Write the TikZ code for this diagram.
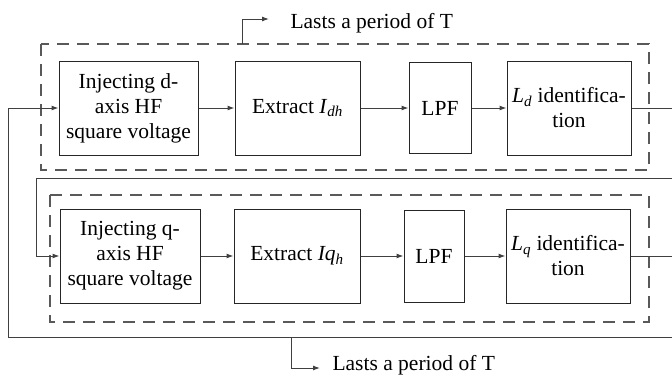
\documentclass[tikz,border=0pt]{standalone}
\usepackage{fontspec}
\setmainfont{Liberation Serif}
\usetikzlibrary{arrows.meta,positioning}
\newcommand{\quant}[2]{\textit{#1}\textsubscript{\textit{#2}}}
\tikzset{
    every node/.style={font=\rmfamily\fontsize{21.5}{25}\selectfont},
    block/.style={draw=black!85,line width=1pt,align=center,minimum height=94pt,inner sep=2pt},
    stage/.style={draw=black!65,line width=1.1pt,dash pattern=on 12pt off 8pt},
    wire/.style={draw=black!75,line width=1pt}
}

\begin{document}
\begin{tikzpicture}[x=1pt,y=-1pt,->,>={Latex[length=7pt,width=5pt]},node distance=36pt]
    \useasboundingbox (0,0) rectangle (672,375);

        % d-axis stage
        \draw[stage,-] (41,44) rectangle (649,170);
        \node[block,minimum width=139pt] (injd) at (128.5,108) {Injecting d-\\axis HF\\square voltage};
        \node[block,minimum width=125pt] (extd) [right =36pt of injd] {Extract \quant{I}{dh}};
        \node[block,minimum width=62pt,minimum height=91pt] (lpfd) [right =48pt of extd] {LPF};
        \node[block,minimum width=124pt] (idd) [right =35pt of lpfd] {\quant{L}{d} identifica-\\tion};

        % q-axis stage
        \draw[stage,-] (50,195) rectangle (649,322);
        \node[block,minimum width=140pt] (injq) at (130,256) {Injecting q-\\axis HF\\square voltage};
        \node[block,minimum width=126pt] (extq) [right =33pt of injq] {Extract \textit{Iq}\textsubscript{\textit{h}}};
        \node[block,minimum width=60pt,minimum height=92pt] (lpfq) [right =43pt of extq] {LPF};
        \node[block,minimum width=124pt] (idq) [right =41pt of lpfq] {\quant{L}{q} identifica-\\tion};

        \draw[wire] (injd) -- (extd);
        \draw[wire] (extd) -- (lpfd);
        \draw[wire] (lpfd) -- (idd);
        \draw[wire] (injq) -- (extq);
        \draw[wire] (extq) -- (lpfq);
        \draw[wire] (lpfq) -- (idq);

        % outputs and return paths
        \coordinate (outd) at (672,108);
        \coordinate (outq) at (672,256);
        \coordinate (retd) at (672,178);
        \coordinate (retq) at (672,337);
        \draw[wire,-] (idd) -- (outd);
        \draw[wire,-] (idq) -- (outq);
        \draw[wire] (retd) -- (36,178) |- (injq);
        \draw[wire] (retq) -- (8,337) |- (injd);

        % period labels
        \coordinate (tdtop) at (242,44);
        \coordinate (tqbot) at (291,337);
        \node[anchor=base west] (perd) at (287,28) {Lasts a period of T};
        \node[anchor=base west] (perq) at (329,370) {Lasts a period of T};
        \draw[wire] (tdtop) |- ([xshift=-18pt,yshift=9pt]perd.base west);
        \draw[wire] (tqbot) |- ([xshift=-9pt,yshift=2pt]perq.base west);
      \end{tikzpicture}
\end{document}
